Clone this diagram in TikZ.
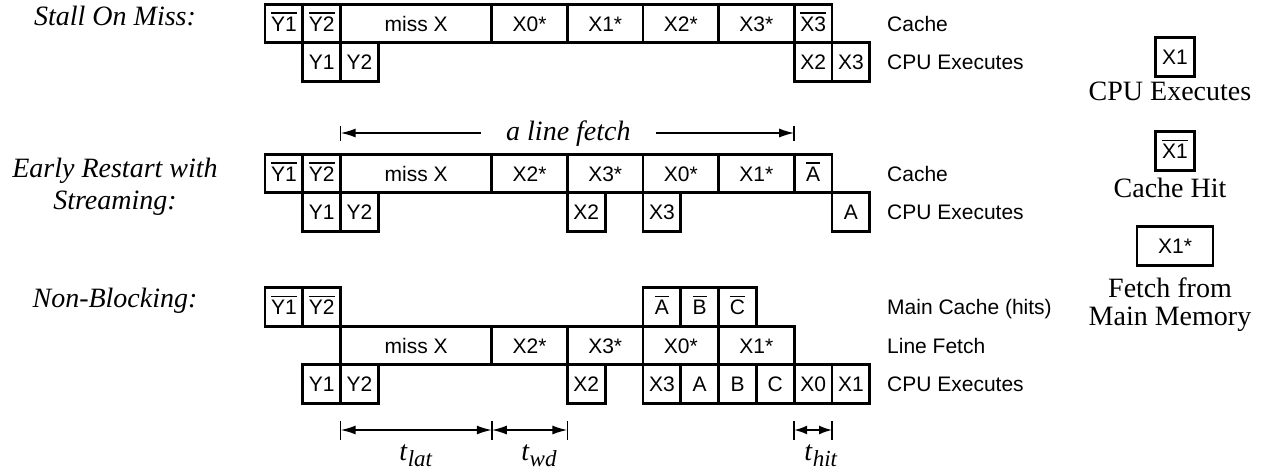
\documentclass[tikz,border=0pt]{standalone}
\usepackage{fontspec}
\setmainfont{Liberation Serif}
\setsansfont{Liberation Sans}
\usetikzlibrary{arrows.meta}
\newcommand\ovl[1]{\setbox0\hbox{#1}\rlap{\rule[17.5pt]{\wd0}{1.3pt}}\box0}
\newcommand\cellbox[5]{\node[cell, minimum width={(#3-#2)*37.8pt}] (#1) at ({265+37.8*(#2+#3)/2},#4) {#5};}
\newcommand\tsub[2]{\textit{#1}\raisebox{-6pt}{\fontsize{23}{26}\selectfont\textit{#2}}}
\begin{document}
\begin{tikzpicture}[x=1pt,y=-1pt,
  cell/.style={draw, line width=2.8pt, minimum height=38.5pt, inner sep=0pt, text height=15pt, text depth=0pt, font=\sffamily\fontsize{21}{25}\selectfont},
  rlab/.style={anchor=base west, font=\sffamily\fontsize{21}{25}\selectfont, inner sep=0pt},
  ser/.style={anchor=base, font=\fontsize{28}{33}\selectfont, inner sep=0pt},
  seri/.style={ser, font=\fontsize{28}{33}\selectfont\itshape},
  dim/.style={line width=1.6pt, {Latex[length=15pt,width=9pt]}-{Latex[length=15pt,width=9pt]}},
  arr/.style={line width=1.6pt, -{Latex[length=15pt,width=9pt]}},
  tick/.style={line width=1.6pt}]
\useasboundingbox (0,0) rectangle (1261,472);

% left labels
\node[seri] (l1) at (115,25) {Stall On Miss:};
\node[seri] (l2a) at (115,177) {Early Restart with};
\node[seri] (l2b) at (115,209) {Streaming:};
\node[seri] (l3) at (115,307) {Non-Blocking:};

% row 1: stall on miss
\cellbox{a1}{0}{1}{23.5}{\ovl{Y1}}
\cellbox{a2}{1}{2}{23.5}{\ovl{Y2}}
\cellbox{a3}{2}{6}{23.5}{miss X}
\cellbox{a4}{6}{8}{23.5}{X0*}
\cellbox{a5}{8}{10}{23.5}{X1*}
\cellbox{a6}{10}{12}{23.5}{X2*}
\cellbox{a7}{12}{14}{23.5}{X3*}
\cellbox{a8}{14}{15}{23.5}{\ovl{X3}}
\cellbox{b1}{1}{2}{62}{Y1}
\cellbox{b2}{2}{3}{62}{Y2}
\cellbox{b3}{14}{15}{62}{X2}
\cellbox{b4}{15}{16}{62}{X3}
\node[rlab] (ra1) at (887,31) {Cache};
\node[rlab] (rb1) at (887,69.5) {CPU Executes};

% line fetch arrow
\coordinate (lfL) at (340.6,133);
\coordinate (lfR) at (794.2,133);
\node[seri, inner xsep=25pt] (lf) at (568.4,140) {a line fetch};
\draw[arr] (lf.west |- lfL) -- (lfL);
\draw[arr] (lf.east |- lfR) -- (lfR);
\draw[tick] (340.6,126) -- (340.6,141);
\draw[tick] (794.2,126) -- (794.2,141);

% row 2: early restart
\cellbox{c1}{0}{1}{173.5}{\ovl{Y1}}
\cellbox{c2}{1}{2}{173.5}{\ovl{Y2}}
\cellbox{c3}{2}{6}{173.5}{miss X}
\cellbox{c4}{6}{8}{173.5}{X2*}
\cellbox{c5}{8}{10}{173.5}{X3*}
\cellbox{c6}{10}{12}{173.5}{X0*}
\cellbox{c7}{12}{14}{173.5}{X1*}
\cellbox{c8}{14}{15}{173.5}{\ovl{A}}
\cellbox{d1}{1}{2}{212}{Y1}
\cellbox{d2}{2}{3}{212}{Y2}
\cellbox{d3}{8}{9}{212}{X2}
\cellbox{d4}{10}{11}{212}{X3}
\cellbox{d5}{15}{16}{212}{A}
\node[rlab] (rc1) at (887,181) {Cache};
\node[rlab] (rd1) at (887,219.5) {CPU Executes};

% row 3: non-blocking
\cellbox{e1}{0}{1}{307}{\ovl{Y1}}
\cellbox{e2}{1}{2}{307}{\ovl{Y2}}
\cellbox{e3}{10}{11}{307}{\ovl{A}}
\cellbox{e4}{11}{12}{307}{\ovl{B}}
\cellbox{e5}{12}{13}{307}{\ovl{C}}
\cellbox{f1}{2}{6}{345.5}{miss X}
\cellbox{f2}{6}{8}{345.5}{X2*}
\cellbox{f3}{8}{10}{345.5}{X3*}
\cellbox{f4}{10}{12}{345.5}{X0*}
\cellbox{f5}{12}{14}{345.5}{X1*}
\cellbox{g1}{1}{2}{384}{Y1}
\cellbox{g2}{2}{3}{384}{Y2}
\cellbox{g3}{8}{9}{384}{X2}
\cellbox{g4}{10}{11}{384}{X3}
\cellbox{g5}{11}{12}{384}{A}
\cellbox{g6}{12}{13}{384}{B}
\cellbox{g7}{13}{14}{384}{C}
\cellbox{g8}{14}{15}{384}{X0}
\cellbox{g9}{15}{16}{384}{X1}
\node[rlab] (re1) at (887,314.5) {Main Cache (hits)};
\node[rlab] (rf1) at (887,353) {Line Fetch};
\node[rlab] (rg1) at (887,391.5) {CPU Executes};

% dimensions
\coordinate (t2) at (340.6,430);
\coordinate (t6) at (491.8,430);
\coordinate (t8) at (567.4,430);
\coordinate (t14) at (794.2,430);
\coordinate (t15) at (832,430);
\foreach \xx in {340.6,491.8,567.4,794.2,832}{\draw[tick] (\xx,421) -- (\xx,440);}
\draw[dim] (t2) -- (t6);
\draw[dim] (t6) -- (t8);
\draw[line width=1.6pt, {Latex[length=13pt,width=9pt]}-{Latex[length=13pt,width=9pt]}] (t14) -- (t15);
\node[ser] (tl) at (416,460) {\tsub{t}{lat}};
\node[ser] (tw) at (539,460) {\tsub{t}{wd}};
\node[ser] (th) at (821,460) {\tsub{t}{hit}};

% legend
\node[cell, minimum width=39pt] (k1) at (1175,57) {X1};
\node[ser] (k1t) at (1170,100) {CPU Executes};
\node[cell, minimum width=39pt] (k2) at (1175,151) {\ovl{X1}};
\node[ser] (k2t) at (1170,197) {Cache Hit};
\node[cell, minimum width=76pt] (k3) at (1175,246) {X1*};
\node[ser] (k3t) at (1170,297) {Fetch from};
\node[ser] (k3u) at (1170,325) {Main Memory};
\end{tikzpicture}
\end{document}
